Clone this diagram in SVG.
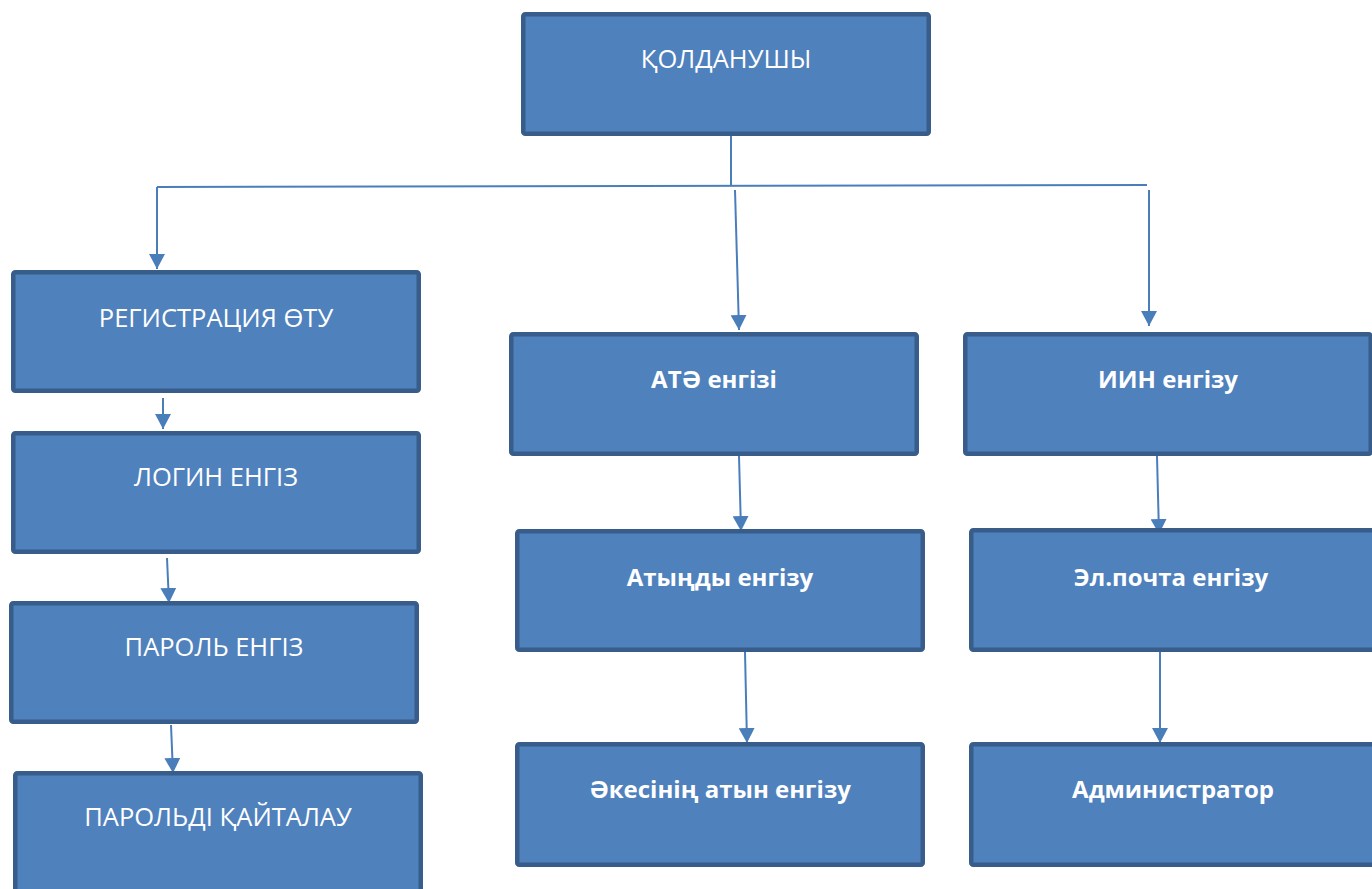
<svg xmlns="http://www.w3.org/2000/svg" width="1372" height="889" viewBox="0 0 1372 889">
  <style>
    .box { fill: #4F81BD; stroke: #385D8A; stroke-width: 4.5; }
    .lbl { fill: #FFFFFF; font-family: "Open Sans", "Noto Sans", "DejaVu Sans", sans-serif; font-size: 25.5px; text-anchor: middle; }
    .b { font-weight: bold; font-size: 24px; }
    .wire { fill: none; stroke: #4A7EBB; stroke-width: 2; }
  </style>
  <defs>
    <marker id="tip" markerUnits="userSpaceOnUse" markerWidth="16" markerHeight="16" viewBox="0 0 16 16" refX="15" refY="8" orient="auto">
      <path d="M0,0 L15,8 L0,16 Z" fill="#4A7EBB"/>
    </marker>
  </defs>
  <rect width="1372" height="889" fill="#FFFFFF"/>

  <g id="connectors">
    <line class="wire" x1="731" y1="136" x2="731" y2="186"/>
    <line class="wire" x1="157" y1="187" x2="1147" y2="185"/>
    <line class="wire" x1="157" y1="187" x2="157" y2="269" marker-end="url(#tip)"/>
    <line class="wire" x1="735" y1="190" x2="739" y2="330" marker-end="url(#tip)"/>
    <line class="wire" x1="1149" y1="190" x2="1149" y2="326" marker-end="url(#tip)"/>
    <line class="wire" x1="163" y1="398" x2="163" y2="429" marker-end="url(#tip)"/>
    <line class="wire" x1="167" y1="558" x2="169" y2="603" marker-end="url(#tip)"/>
    <line class="wire" x1="171" y1="725" x2="173" y2="773" marker-end="url(#tip)"/>
    <line class="wire" x1="739" y1="456" x2="741" y2="531" marker-end="url(#tip)"/>
    <line class="wire" x1="745" y1="652" x2="747" y2="743" marker-end="url(#tip)"/>
    <line class="wire" x1="1157" y1="456" x2="1159" y2="534" marker-end="url(#tip)"/>
    <line class="wire" x1="1160" y1="652" x2="1160" y2="743" marker-end="url(#tip)"/>
  </g>

  <g id="user">
    <rect class="box" x="523.25" y="14.25" width="405.5" height="119.5" rx="2"/>
    <text class="lbl" x="726" y="68">ҚОЛДАНУШЫ</text>
  </g>

  <g id="registration">
    <rect class="box" x="13.25" y="272.25" width="405.5" height="118.5" rx="2"/>
    <text class="lbl" x="216" y="327">РЕГИСТРАЦИЯ ӨТУ</text>
  </g>
  <g id="login">
    <rect class="box" x="13.25" y="433.25" width="405.5" height="118.5" rx="2"/>
    <text class="lbl" x="216" y="486">ЛОГИН ЕНГІЗ</text>
  </g>
  <g id="password">
    <rect class="box" x="11.25" y="603.25" width="405.5" height="118.5" rx="2"/>
    <text class="lbl" x="214" y="656">ПАРОЛЬ ЕНГІЗ</text>
  </g>
  <g id="password-repeat">
    <rect class="box" x="15.25" y="773.25" width="405.5" height="130" rx="2"/>
    <text class="lbl" x="218" y="826">ПАРОЛЬДІ ҚАЙТАЛАУ</text>
  </g>

  <g id="full-name">
    <rect class="box" x="511.25" y="334.25" width="405.5" height="119.5" rx="2"/>
    <text class="lbl b" x="714" y="388">АТӘ енгізі</text>
  </g>
  <g id="first-name">
    <rect class="box" x="517.25" y="531.25" width="405.5" height="118.5" rx="2"/>
    <text class="lbl b" x="720" y="586">Атыңды енгізу</text>
  </g>
  <g id="patronymic">
    <rect class="box" x="517.25" y="744.25" width="405.5" height="120.5" rx="2"/>
    <text class="lbl b" x="720" y="798">Әкесінің атын енгізу</text>
  </g>

  <g id="iin">
    <rect class="box" x="965.25" y="334.25" width="405.5" height="119.5" rx="2"/>
    <text class="lbl b" x="1168" y="388">ИИН енгізу</text>
  </g>
  <g id="email">
    <rect class="box" x="971.25" y="530.25" width="405.5" height="119.5" rx="2"/>
    <text class="lbl b" x="1171" y="586">Эл.почта енгізу</text>
  </g>
  <g id="admin">
    <rect class="box" x="971.25" y="744.25" width="405.5" height="120.5" rx="2"/>
    <text class="lbl b" x="1173" y="798">Администратор</text>
  </g>
</svg>
